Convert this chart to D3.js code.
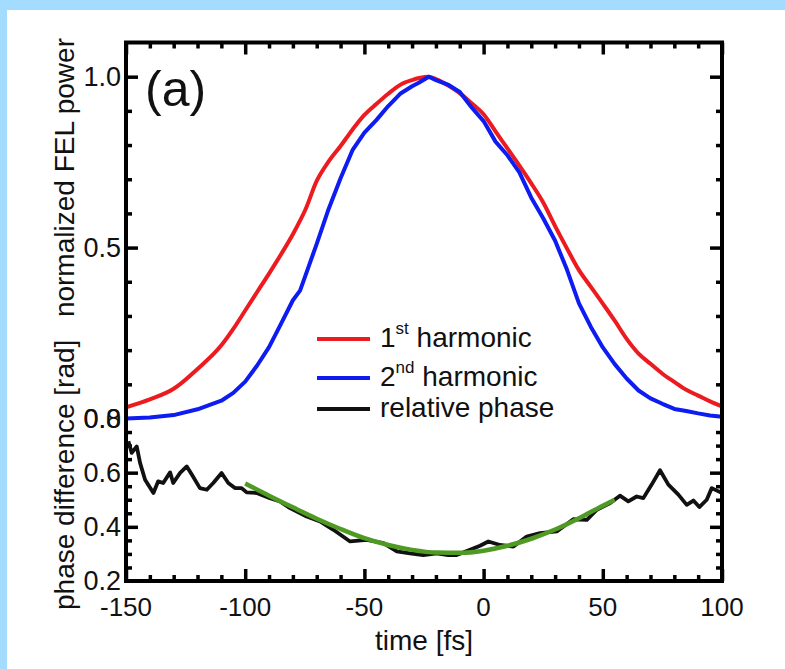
<!DOCTYPE html>
<html>
<head>
<meta charset="utf-8">
<script src="https://cdn.jsdelivr.net/npm/d3@7/dist/d3.min.js"></script>
<style>
  html, body { margin: 0; padding: 0; background: #a3dcff; }
  svg { display: block; }
  text { font-family: "Liberation Sans", Arial, sans-serif; fill: #111; }
</style>
</head>
<body>
<div id="chart"></div>
<script>
// time axis [fs] for the two harmonics
const harmTime = [-150, -140, -130, -120, -110, -105, -100, -95, -90, -85, -80, -77, -75, -70, -65, -60, -55, -50, -45, -40, -35, -30, -27, -23, -20, -15, -10, -5, 0, 5, 10, 15, 20, 25, 30, 35, 40, 45, 50, 55, 60, 65, 70, 75, 80, 85, 90, 95, 100];
// 1st harmonic, normalized power
const firstHarm = [0.033, 0.056, 0.087, 0.145, 0.214, 0.262, 0.316, 0.37, 0.424, 0.48, 0.539, 0.579, 0.607, 0.695, 0.752, 0.797, 0.845, 0.888, 0.92, 0.95, 0.976, 0.99, 0.996, 1.0, 0.993, 0.975, 0.952, 0.922, 0.89, 0.84, 0.79, 0.74, 0.688, 0.632, 0.563, 0.497, 0.434, 0.385, 0.336, 0.286, 0.233, 0.19, 0.16, 0.131, 0.107, 0.084, 0.067, 0.05, 0.035];
// 2nd harmonic, normalized power
const secondHarm = [0.0, 0.003, 0.01, 0.027, 0.052, 0.075, 0.108, 0.155, 0.209, 0.277, 0.346, 0.374, 0.413, 0.511, 0.613, 0.703, 0.785, 0.836, 0.873, 0.914, 0.95, 0.972, 0.983, 1.0, 0.99, 0.977, 0.955, 0.91, 0.87, 0.81, 0.77, 0.72, 0.646, 0.586, 0.52, 0.435, 0.337, 0.268, 0.208, 0.159, 0.117, 0.082, 0.059, 0.043, 0.028, 0.022, 0.015, 0.009, 0.005];

// relative phase [rad]
const phaseTime = [-149, -147.6, -145.5, -144.1, -142, -138.5, -136.5, -134.4, -131.5, -130.2, -127.3, -124.5, -122.4, -119, -116.1, -113.4, -109.9, -107.1, -104.3, -101.5, -99.4, -95.2, -89.6, -85.4, -81.2, -74.2, -68.6, -63, -56, -49, -42, -36.4, -30.9, -25.3, -19.7, -14.8, -11.3, -5.7, -1.5, 2, 6.9, 12.5, 18.1, 23.7, 30.7, 37.6, 43.3, 47.5, 53.1, 57.2, 60.7, 64.2, 67, 70.5, 74, 77.5, 81.7, 85.2, 88, 90.5, 93.6, 95.7, 98.5, 100];
const phaseValue = [0.716, 0.673, 0.697, 0.636, 0.574, 0.525, 0.568, 0.562, 0.601, 0.562, 0.599, 0.623, 0.593, 0.543, 0.537, 0.562, 0.599, 0.562, 0.543, 0.543, 0.527, 0.525, 0.506, 0.494, 0.469, 0.438, 0.42, 0.389, 0.346, 0.352, 0.34, 0.309, 0.302, 0.296, 0.302, 0.296, 0.296, 0.315, 0.33, 0.346, 0.333, 0.327, 0.364, 0.377, 0.383, 0.428, 0.426, 0.463, 0.488, 0.515, 0.494, 0.512, 0.506, 0.556, 0.609, 0.556, 0.519, 0.481, 0.497, 0.473, 0.5, 0.543, 0.531, 0.525];

// fitted curve (green)
const fitTime = [-100, -90, -80, -70, -60, -50, -40, -30, -20, -10, 0, 10, 20, 30, 40, 50, 55];
const fitValue = [0.56, 0.515, 0.472, 0.43, 0.392, 0.358, 0.333, 0.315, 0.305, 0.304, 0.312, 0.33, 0.356, 0.39, 0.432, 0.478, 0.5];

const xTicks = [-150, -100, -50, 0, 50, 100];
const powTicks = [0.0, 0.5, 1.0];
const phTicks = [0.2, 0.4, 0.6, 0.8];

const legendItems = [
  { color: '#ec1b1f', main: '1', sup: 'st', rest: ' harmonic' },
  { color: '#0d1cf0', main: '2', sup: 'nd', rest: ' harmonic' },
  { color: '#111111', main: 'relative phase', sup: '', rest: '' }
];

const W = 785, H = 669;
const pL = 126, pR = 722, pT = 42.5, pB = 581, pSplit = 418.5;

const svg = d3.select('#chart').append('svg')
  .attr('width', W)
  .attr('height', H);

// white page inside the light blue frame
svg.append('rect')
  .attr('x', 7).attr('y', 10)
  .attr('width', W - 7).attr('height', H - 10)
  .attr('fill', '#ffffff');

const x = d3.scaleLinear().domain([-150, 100]).range([pL, pR]);
const yPow = d3.scaleLinear().domain([0, 1.1]).range([pSplit, pT]);
const yPh = d3.scaleLinear().domain([0.2, 0.8]).range([pB, pSplit]);

// ticks (inward), drawn with d3 axes
function styleAxis(g) {
  g.select('.domain').remove();
  g.selectAll('.tick line').attr('stroke', '#000').attr('stroke-width', 3.5);
  g.selectAll('.tick text').remove();
}

const xMinor = d3.range(-140, 100, 10).filter(d => d % 50 !== 0);
svg.append('g').attr('transform', `translate(0,${pB})`)
  .call(d3.axisTop(x).tickValues(xTicks).tickSize(12)).call(styleAxis);
svg.append('g').attr('transform', `translate(0,${pB})`)
  .call(d3.axisTop(x).tickValues(xMinor).tickSize(6)).call(styleAxis);
svg.append('g').attr('transform', `translate(0,${pT})`)
  .call(d3.axisBottom(x).tickValues(xTicks).tickSize(12)).call(styleAxis);
svg.append('g').attr('transform', `translate(0,${pT})`)
  .call(d3.axisBottom(x).tickValues(xMinor).tickSize(6)).call(styleAxis);

const powMinor = [0.1, 0.2, 0.3, 0.4, 0.6, 0.7, 0.8, 0.9];
const phMinor = [0.25, 0.3, 0.35, 0.45, 0.5, 0.55, 0.65, 0.7, 0.75];
[[pL, d3.axisRight], [pR, d3.axisLeft]].forEach(([px, ax]) => {
  svg.append('g').attr('transform', `translate(${px},0)`)
    .call(ax(yPow).tickValues([0.5, 1.0]).tickSize(12)).call(styleAxis);
  svg.append('g').attr('transform', `translate(${px},0)`)
    .call(ax(yPow).tickValues(powMinor).tickSize(6)).call(styleAxis);
  svg.append('g').attr('transform', `translate(${px},0)`)
    .call(ax(yPh).tickValues([0.4, 0.6]).tickSize(12)).call(styleAxis);
  svg.append('g').attr('transform', `translate(${px},0)`)
    .call(ax(yPh).tickValues(phMinor).tickSize(6)).call(styleAxis);
});

// curves
svg.append('clipPath').attr('id', 'plot')
  .append('rect').attr('x', pL).attr('y', pT).attr('width', pR - pL).attr('height', pB - pT);

const plot = svg.append('g').attr('clip-path', 'url(#plot)');

const powLine = d3.line().x(d => x(d[0])).y(d => yPow(d[1]));
const phLine = d3.line().x(d => x(d[0])).y(d => yPh(d[1]));

plot.append('path')
  .datum(harmTime.map((t, i) => [t, firstHarm[i]]))
  .attr('d', d3.line().x(d => x(d[0])).y(d => yPow(d[1])).curve(d3.curveMonotoneX))
  .attr('fill', 'none')
  .attr('stroke', legendItems[0].color).attr('stroke-width', 4).attr('stroke-linejoin', 'round');

plot.append('path')
  .datum(harmTime.map((t, i) => [t, secondHarm[i]]))
  .attr('d', powLine).attr('fill', 'none')
  .attr('stroke', legendItems[1].color).attr('stroke-width', 4).attr('stroke-linejoin', 'round');

plot.append('path')
  .datum(phaseTime.map((t, i) => [t, phaseValue[i]]))
  .attr('d', phLine).attr('fill', 'none')
  .attr('stroke', '#111').attr('stroke-width', 3.8).attr('stroke-linejoin', 'round');

plot.append('path')
  .datum(fitTime.map((t, i) => [t, fitValue[i]]))
  .attr('d', d3.line().x(d => x(d[0])).y(d => yPh(d[1])).curve(d3.curveMonotoneX))
  .attr('fill', 'none')
  .attr('stroke', '#4e9a22').attr('stroke-width', 4.5);

// frame
svg.append('rect')
  .attr('x', pL).attr('y', pT)
  .attr('width', pR - pL).attr('height', pB - pT)
  .attr('fill', 'none').attr('stroke', '#000').attr('stroke-width', 4);

// tick labels
svg.selectAll('.xlab').data(xTicks).enter().append('text')
  .attr('x', d => x(d)).attr('y', 616)
  .attr('text-anchor', 'middle').attr('font-size', 26)
  .text(d => d);

svg.selectAll('.plab').data(powTicks).enter().append('text')
  .attr('x', 121).attr('y', d => yPow(d)).attr('dy', '0.36em')
  .attr('text-anchor', 'end').attr('font-size', 27)
  .text(d => d.toFixed(1));

svg.selectAll('.phlab').data(phTicks).enter().append('text')
  .attr('x', 121).attr('y', d => yPh(d)).attr('dy', '0.34em')
  .attr('text-anchor', 'end').attr('font-size', 27)
  .text(d => d.toFixed(1));

// axis titles
svg.append('text')
  .attr('transform', 'translate(74,610) rotate(-90)')
  .attr('font-size', 28)
  .text('phase difference [rad]');

svg.append('text')
  .attr('transform', 'translate(74,38) rotate(-90)')
  .attr('text-anchor', 'end').attr('font-size', 28)
  .text('normalized FEL power');

svg.append('text')
  .attr('x', (pL + pR) / 2).attr('y', 650)
  .attr('text-anchor', 'middle').attr('font-size', 28)
  .text('time [fs]');

// panel tag
svg.append('text')
  .attr('x', 145).attr('y', 106)
  .attr('font-size', 50)
  .text('(a)');

// legend
const legendY = [339, 378, 409];
const lg = svg.append('g');
legendItems.forEach((d, i) => {
  const y = legendY[i];
  lg.append('line')
    .attr('x1', 317).attr('x2', 370).attr('y1', y).attr('y2', y)
    .attr('stroke', d.color).attr('stroke-width', 4);
  const t = lg.append('text').attr('x', 380).attr('y', y + 8).attr('font-size', 28);
  t.append('tspan').text(d.main);
  if (d.sup) {
    t.append('tspan').attr('dy', -13).attr('font-size', 17).text(d.sup);
    t.append('tspan').attr('dy', 13).text(d.rest);
  }
});
</script>
</body>
</html>
